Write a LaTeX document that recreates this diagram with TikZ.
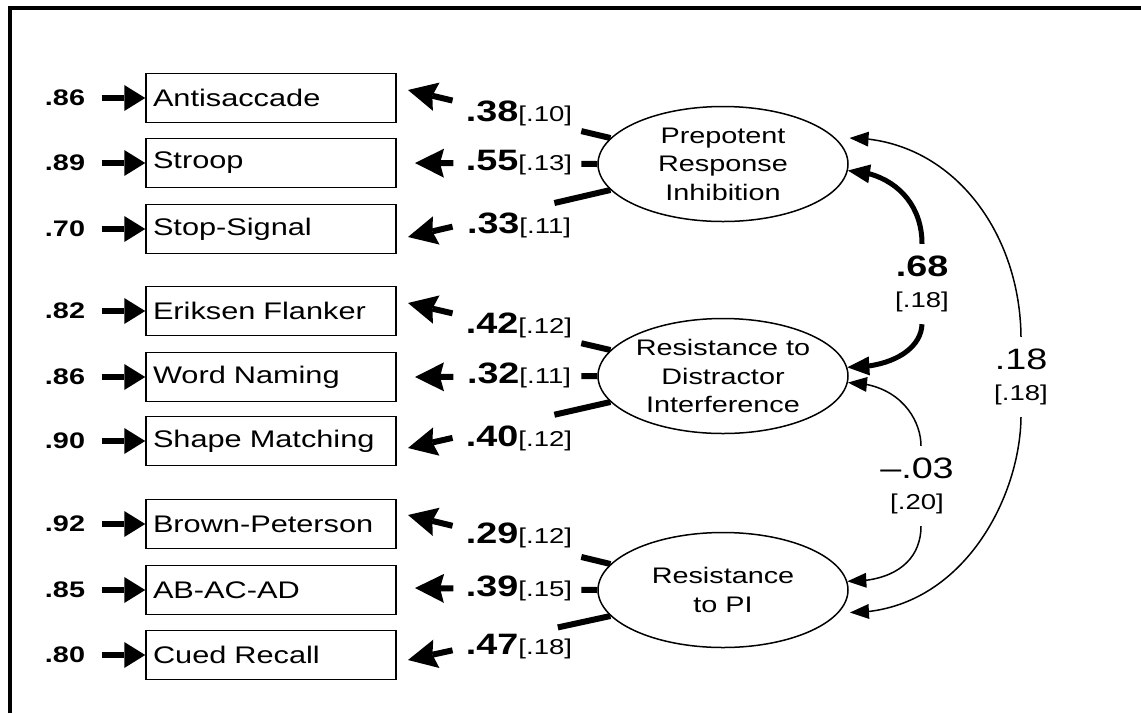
\documentclass[tikz,border=0pt]{standalone}
\usepackage{fontspec}
\setmainfont{Liberation Sans}[FakeStretch=1.28]
\usetikzlibrary{shapes.geometric,arrows.meta,calc,bending}
\newcommand\mylab[2]{{\fontsize{29.5}{30}\selectfont\bfseries #1}{\fontsize{21.5}{22}\selectfont[#2]}}
\begin{document}
\begin{tikzpicture}[x=1pt,y=-1pt,
  box/.style={draw, line width=1.5pt, minimum width=250pt, minimum height=49pt,
    text width=236pt, align=left, inner xsep=7pt, font=\fontsize{24}{26}\selectfont},
  latent/.style={draw, ellipse, line width=1.5pt, minimum width=250pt, minimum height=115pt,
    inner sep=0pt, align=center, font=\fontsize{22.5}{28.5}\selectfont},
  resid/.style={font=\fontsize{22.5}{24}\selectfont\bfseries},
  residarrow/.style={line width=6pt, -{Triangle[length=21pt,width=26pt,line width=0pt]}},
  load/.style={line width=6pt},
  loadtip/.style={load, -{Stealth[length=29pt,width=29pt,inset=4pt,line width=0pt]}},
  corr/.style={align=center, minimum height=80pt, inner sep=0pt, font=\fontsize{21.5}{31}\selectfont},
  thincurve/.style={line width=1.5pt, -{Triangle[length=19pt,width=15pt,line width=0pt]}},
  thickcurve/.style={line width=5pt, -{Triangle[length=22pt,width=19pt,line width=0pt]}}
]
\useasboundingbox (0,0) rectangle (1141,713);
\draw[line width=4pt] (9.5,713) -- (9.5,8) -- (1141,8);

% observed variables
\node[box] (b1) at (271,98)  {Antisaccade};
\node[box] (b2) at (271,163) {Stroop};
\node[box] (b3) at (271,229) {Stop-Signal};
\node[box] (b4) at (271,311) {Eriksen Flanker};
\node[box] (b5) at (271,377) {Word Naming};
\node[box] (b6) at (271,441) {Shape Matching};
\node[box] (b7) at (271,524) {Brown-Peterson};
\node[box] (b8) at (271,590) {AB-AC-AD};
\node[box] (b9) at (271,655) {Cued Recall};

% residuals
\foreach \i/\v/\y in {1/.86/98, 2/.89/163, 3/.70/229, 4/.82/311, 5/.86/377,
                      6/.90/441, 7/.92/524, 8/.85/590, 9/.80/655}{
  \node[resid] (r\i) at (65,\y) {\v};
  \draw[residarrow] ([xshift=13pt]r\i.east) -- (b\i.west);
}

% latent variables
\node[latent] (P) at (723,164) {Prepotent\\Response\\Inhibition};
\node[latent] (D) at (723,376) {Resistance to\\Distractor\\Interference};
\node[latent] (R) at (723,590) {Resistance\\to PI};

% loading arrow tips
\coordinate (t1) at (408,90);
\coordinate (t2) at (415,163);
\coordinate (t3) at (408,237);
\coordinate (t4) at (408,303);
\coordinate (t5) at (415,377);
\coordinate (t6) at (408,448);
\coordinate (t7) at (408,515);
\coordinate (t8) at (415,588);
\coordinate (t9) at (408,660);

\foreach \L/\a/\t/\ua/\ub in {P/167/1/0.144/0.78, P/180/2/0.087/0.79, P/193/3/0.277/0.78,
                              D/167/4/0.144/0.78, D/180/5/0.087/0.79, D/193/6/0.277/0.78,
                              R/167/7/0.144/0.78, R/180/8/0.087/0.79, R/193/9/0.260/0.78}{
  \draw[load] (\L.\a) -- ($(\L.\a)!\ua!(t\t)$);
  \draw[loadtip] ($(\L.\a)!\ub!(t\t)$) -- (t\t);
}

% loading labels
\node (l1) at (519,113) {\mylab{.38}{.10}};
\node (l2) at (519,163) {\mylab{.55}{.13}};
\node (l3) at (519,225) {\mylab{.33}{.11}};
\node (l4) at (519,325) {\mylab{.42}{.12}};
\node (l5) at (519,375) {\mylab{.32}{.11}};
\node (l6) at (519,438) {\mylab{.40}{.12}};
\node (l7) at (519,535) {\mylab{.29}{.12}};
\node (l8) at (519,588) {\mylab{.39}{.15}};
\node (l9) at (519,647) {\mylab{.47}{.18}};

% correlations
\node[corr] (c68) at (922,284) {{\fontsize{29.5}{31}\selectfont\bfseries .68}\\{[.18]}};
\node[corr] (c03) at (917,486) {{\fontsize{29.5}{31}\selectfont \textendash.03}\\{[.20]}};
\node[corr] (c18) at (1021,377) {{\fontsize{29.5}{31}\selectfont .18}\\{[.18]}};

\draw[thickcurve] (c68.north) .. controls (922,200) and (890,172) .. (P.-3);
\draw[thickcurve] (c68.south) .. controls (921,350) and (890,368) .. (D.4);

\draw[thincurve] ([xshift=4pt]c03.north) .. controls (921,420) and (900,383) .. (D.-3);
\draw[thincurve] ([xshift=4pt]c03.south) .. controls (921,560) and (895,582) .. (R.4);

\draw[thincurve] (c18.north) .. controls (1020,230) and (950,138) .. ([xshift=14pt]P.13);
\draw[thincurve] (c18.south) .. controls (1020,500) and (960,613) .. ([xshift=11pt]R.-11);
\end{tikzpicture}
\end{document}
